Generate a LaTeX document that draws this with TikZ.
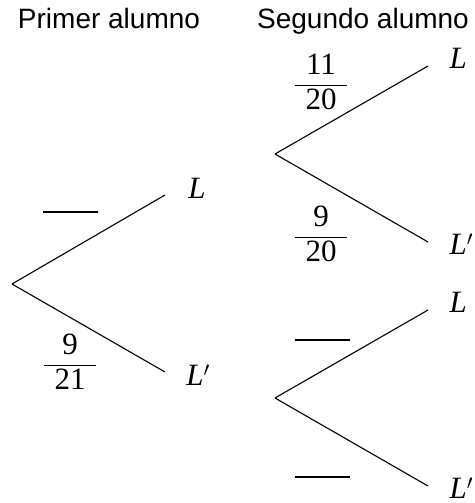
\documentclass[tikz,border=0pt]{standalone}
\usepackage{amsmath}
\usepackage{fontspec}
\setsansfont{Liberation Sans}
\newfontfamily\tms{Liberation Serif}
\usepackage{tikz}
\usetikzlibrary{positioning}

\newcommand{\fr}[2]{$\dfrac{\makebox[52pt]{#1}}{\text{#2}}$}

\tikzset{
  head/.style={font=\sffamily\fontsize{28}{32}\selectfont,anchor=base},
  prob/.style={font=\tms\fontsize{31}{36}\selectfont,inner sep=0pt},
  leaf/.style={font=\tms\itshape\fontsize{31}{36}\selectfont,inner sep=0pt},
  blank/.style={line width=1.1pt}
}

\begin{document}
\begin{tikzpicture}[x=1pt,y=-1pt,line width=1.1pt]
        \useasboundingbox (0,0) rectangle (474,503);
        \node[head] (prim) at (109,29) {Primer alumno};
        \node[head] (seg) at (363,29) {Segundo alumno};
        % primer alumno
        \coordinate (r) at (12,284);
        \coordinate (rL) at (165,195);
        \coordinate (rLp) at (165,372);
        \draw (r) -- (rL);
        \draw (r) -- (rLp);
        \node[leaf] (L) at (197,188) {L};
        \node[leaf] (Lp) at (198,375) {L$'$};
        \draw[blank] (43,212) -- (98,212);
        \node[prob] (p21) at (70,362) {\fr{9}{21}};
        % segundo alumno
        \foreach \n/\y in {a/154,b/398}{
          \coordinate (r\n) at (275,\y);
          \coordinate (r\n L) at (428,\y-88);
          \coordinate (r\n Lp) at (428,\y+88);
          \draw (r\n) -- (r\n L);
          \draw (r\n) -- (r\n Lp);
          \node[leaf,right=21pt of r\n L,yshift=8pt] (L\n) {L};
          \node[leaf,right=21pt of r\n Lp,yshift=-2pt] (Lp\n) {L$'$};
        }
        \node[prob] (pa1) at (321,82) {\fr{11}{20}};
        \node[prob] (pa2) at (321,234) {\fr{9}{20}};
        \draw[blank] (295,340) -- (350,340);
        \draw[blank] (295,477) -- (350,477);
      \end{tikzpicture}
\end{document}
